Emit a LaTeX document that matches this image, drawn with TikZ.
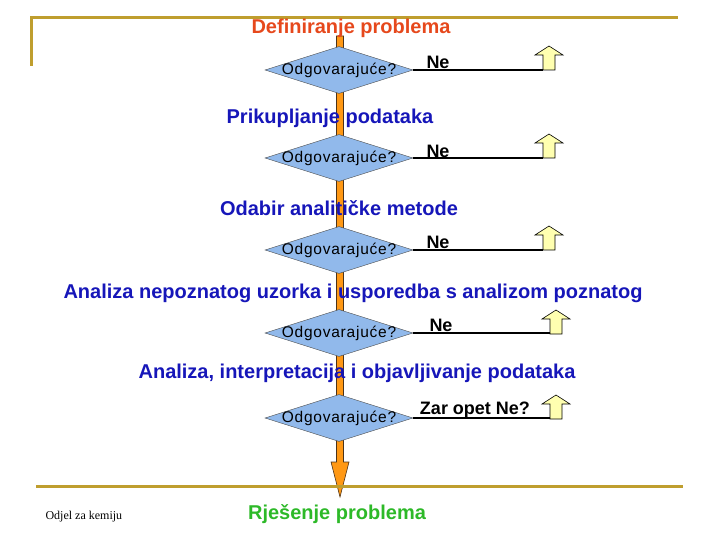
\documentclass[tikz,border=0pt]{standalone}
\usepackage{fontspec}
\setmainfont{Liberation Sans}
\newfontfamily\footfont{Liberation Serif}
\newfontfamily\askfont[LetterSpace=5]{Liberation Sans}
\usetikzlibrary{
  shapes.geometric,
}
\definecolor{framegold}{RGB}{191,158,46}
\definecolor{startred}{RGB}{230,72,28}
\definecolor{stageblue}{RGB}{22,22,185}
\definecolor{endgreen}{RGB}{45,185,40}
\definecolor{checkblue}{RGB}{145,185,235}
\definecolor{backyellow}{RGB}{255,255,176}
\definecolor{barorange}{RGB}{255,152,20}
\tikzset{
  frame/.style={draw=framegold, line width=3pt},
  stage/.style={font=\bfseries\fontsize{20}{24}\selectfont, text=stageblue, inner sep=0pt},
  check/.style={diamond, draw=black!70, fill=checkblue, minimum width=148pt,
    minimum height=47pt, inner sep=0pt},
  asktext/.style={font=\askfont\fontsize{15.5}{18}\selectfont, inner sep=0pt},
  answer/.style={font=\bfseries\fontsize{18}{20}\selectfont, inner sep=0pt},
  retline/.style={draw=black, line width=1.6pt},
  back/.style={draw=black, fill=backyellow, line width=0.6pt},
  bar/.style={draw=black!60!brown, fill=barorange, line width=0.6pt},
}
\newcommand{\backarrow}[1]{%
  \draw[back] (#1) -- ++(0,-15) -- ++(-8,0) -- ++(14,-9) -- ++(14,9)
    -- ++(-8,0) -- ++(0,15) -- cycle;}

\begin{document}
\begin{tikzpicture}[x=1pt,y=-1pt]
    \useasboundingbox (0,0) rectangle (720,540);
    \draw[frame] (31,66) -- (31,18) -- (678,18);
    % main flow
    \coordinate (top) at (340,36);
    \coordinate (tip) at (340,497);
    \draw[bar] ([xshift=-3.5pt]top) -- ([xshift=-3.5pt,yshift=35pt]tip)
      -- ([xshift=-9pt,yshift=35pt]tip) -- (tip) -- ([xshift=9pt,yshift=35pt]tip)
      -- ([xshift=3.5pt,yshift=35pt]tip) -- ([xshift=3.5pt]top) -- cycle;
    \node[stage, text=startred] (T1) at (351,28) {Definiranje problema};
    \node[stage] (T2) at (330,118) {Prikupljanje podataka};
    \node[stage] (T3) at (339,208) {Odabir analitičke metode};
    \node[stage] (T4) at (353,293) {Analiza nepoznatog uzorka i usporedba s analizom poznatog};
    \node[stage] (T5) at (357,373) {Analiza, interpretacija i objavljivanje podataka};
    \node[stage, text=endgreen] (R) at (337,514) {Rješenje problema};
    \node[check, label={[asktext]center:Odgovarajuće?}] (D1) at (339,70) {};
    \node[check, label={[asktext]center:Odgovarajuće?}] (D2) at (339,158) {};
    \node[check, label={[asktext]center:Odgovarajuće?}] (D3) at (339,250) {};
    \node[check, label={[asktext]center:Odgovarajuće?}] (D4) at (339,333) {};
    \node[check, label={[asktext]center:Odgovarajuće?}] (D5) at (339,418) {};
    % way back
    \node[answer] (N1) at (438,62) {Ne};
    \node[answer] (N2) at (438,151) {Ne};
    \node[answer] (N3) at (438,242) {Ne};
    \node[answer] (N4) at (441,325) {Ne};
    \node[answer] (N5) at (475,410) {Zar opet Ne?};
    \coordinate (B1) at (543,70);
    \coordinate (B2) at (543,158);
    \coordinate (B3) at (543,250);
    \coordinate (B4) at (550,334);
    \coordinate (B5) at (550,419);
    \draw[retline] (D1.east) -- (B1);
    \draw[retline] (D2.east) -- (B2);
    \draw[retline] (D3.east) -- (B3);
    \draw[retline] (D4.east) -- (D4.east -| B4);
    \draw[retline] (D5.east) -- (D5.east -| B5);
    \backarrow{B1}
    \backarrow{B2}
    \backarrow{B3}
    \backarrow{B4}
    \backarrow{B5}
    \draw[frame] (36,486) -- (683,486);
    \node[font=\footfont\fontsize{12}{14}\selectfont, anchor=west] (F) at (42,517) {Odjel za kemiju};
  \end{tikzpicture}
\end{document}
